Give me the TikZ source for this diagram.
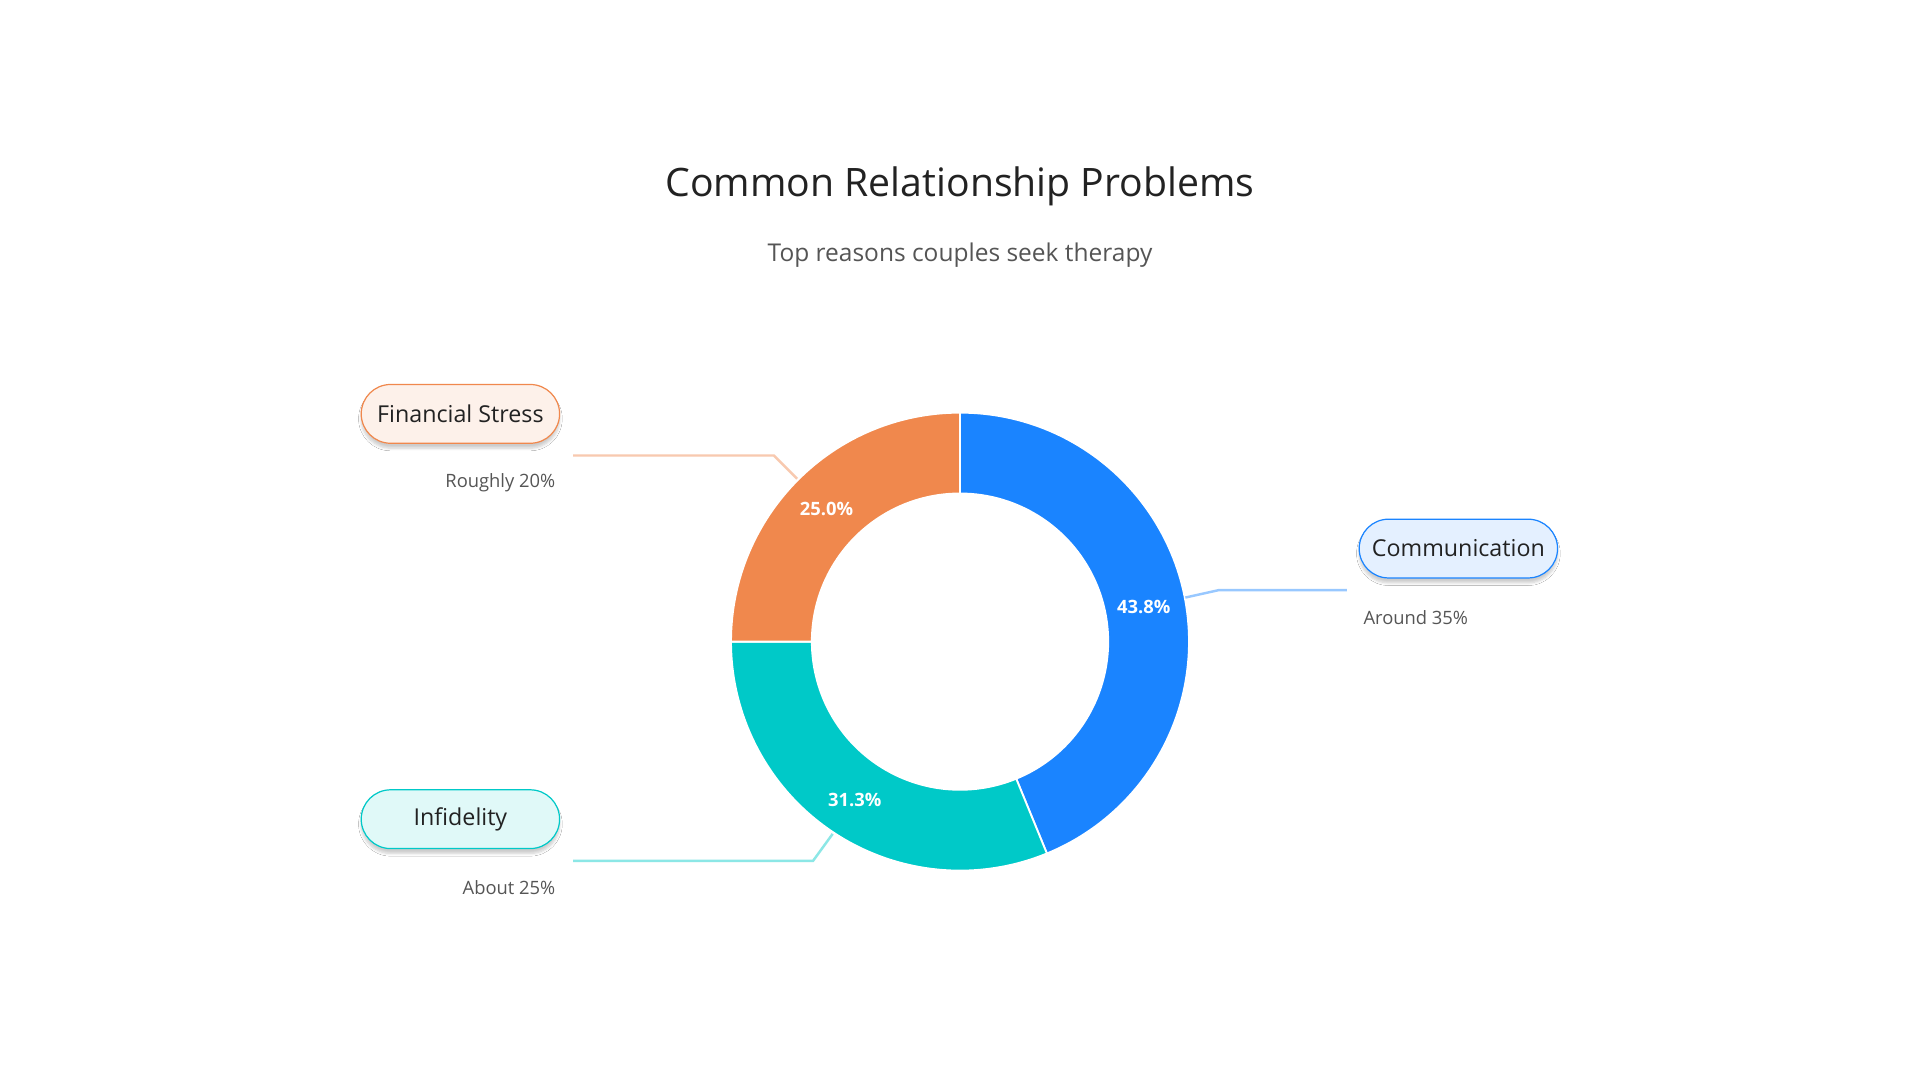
\documentclass[tikz,border=0pt]{standalone}
\usepackage{fontspec}
\setmainfont{Open Sans}
\usetikzlibrary{shadows.blur}
\definecolor{cblue}{HTML}{1A84FF}
\definecolor{cteal}{HTML}{00C9C8}
\definecolor{corange}{HTML}{F0884D}
\definecolor{ink}{HTML}{222222}
\definecolor{sub}{HTML}{555555}
\begin{document}
\begin{tikzpicture}[x=1pt,y=-1pt,
  pill/.style={rounded corners=24pt,minimum width=162pt,minimum height=48pt,line width=1pt,font=\fontsize{19}{22}\selectfont,text=ink,blur shadow={shadow blur steps=6,shadow xshift=0pt,shadow yshift=-4pt,shadow opacity=20}},
  pct/.style={text=white,font=\bfseries\fontsize{15}{18}\selectfont},
  note/.style={text=sub,font=\fontsize{15}{18}\selectfont},
  lead/.style={line width=2pt}]
\fill[white] (0,0) rectangle (1568,882);
\useasboundingbox (0,0) rectangle (1568,882);
\node[font=\fontsize{32}{38}\selectfont,text=ink] (title) at (784,152) {Common Relationship Problems};
\node[font=\fontsize{20}{24}\selectfont,text=sub] (subt) at (784,208) {Top reasons couples seek therapy};
\coordinate (c) at (784,524);
% slices (y axis flipped: use negative angles for clockwise visually)
\fill[cblue,draw=white,line width=1.5pt] ([shift={(-90:187)}]c) arc[start angle=-90,end angle=67.7,radius=187] -- ([shift={(67.7:121)}]c) arc[start angle=67.7,end angle=-90,radius=121] -- cycle;
\fill[cteal,draw=white,line width=1.5pt] ([shift={(67.7:187)}]c) arc[start angle=67.7,end angle=180,radius=187] -- ([shift={(180:121)}]c) arc[start angle=180,end angle=67.7,radius=121] -- cycle;
\fill[corange,draw=white,line width=1.5pt] ([shift={(180:187)}]c) arc[start angle=180,end angle=270,radius=187] -- ([shift={(270:121)}]c) arc[start angle=270,end angle=180,radius=121] -- cycle;
\node[pct] (p1) at (934,496) {43.8\%};
\node[pct] (p2) at (698,653) {31.3\%};
\node[pct] (p3) at (675,416) {25.0\%};
\coordinate (b1) at (968,488); \coordinate (b2) at (995,482); \coordinate (b3) at (1100,482);
\draw[lead,cblue!45] (b1) -- (b2) -- (b3);
\coordinate (o1) at (651,391); \coordinate (o2) at (632,372); \coordinate (o3) at (468,372);
\draw[lead,corange!45] (o1) -- (o2) -- (o3);
\coordinate (t1) at (680,681); \coordinate (t2) at (664,703); \coordinate (t3) at (468,703);
\draw[lead,cteal!45] (t1) -- (t2) -- (t3);
\node[pill,draw=corange,fill=corange!12] (fs) at (376,338) {Financial Stress};
\node[pill,draw=cblue,fill=cblue!12] (cm) at (1191,448) {Communication};
\node[pill,draw=cteal,fill=cteal!12] (inf) at (376,669) {Infidelity};
\node[note,anchor=east] (n1) at (457,394) {Roughly 20\%};
\node[note,anchor=west] (n2) at (1110,504) {Around 35\%};
\node[note,anchor=east] (n3) at (457,725) {About 25\%};
\end{tikzpicture}
\end{document}
